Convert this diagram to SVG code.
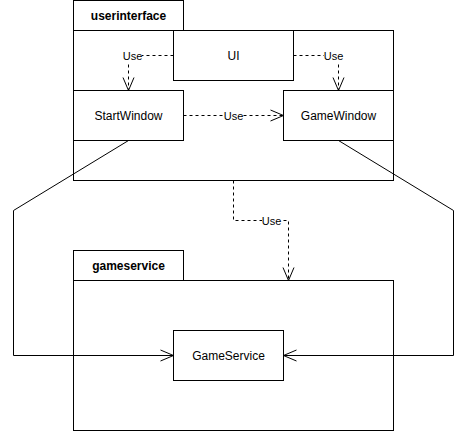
<svg xmlns="http://www.w3.org/2000/svg" width="468" height="431" viewBox="0 0 468 431">
<style>
.box{fill:#fff;stroke:#000;stroke-width:1}
.pkg{fill:none;stroke:#000;stroke-width:1}
.t{font-family:"Liberation Sans",Arial,sans-serif;font-size:12px;fill:#000;text-anchor:middle;dominant-baseline:central}
.b{font-weight:bold}
.lbl{font-family:"Liberation Sans",Arial,sans-serif;font-size:11px;fill:#000;text-anchor:middle;dominant-baseline:central}
.dash{fill:none;stroke:#000;stroke-width:1;stroke-dasharray:3 3}
.solid{fill:none;stroke:#000;stroke-width:1}
</style>
<defs>
<marker id="open" markerUnits="userSpaceOnUse" markerWidth="16" markerHeight="16" viewBox="-14 -8 16 16" refX="0" refY="0" orient="auto">
<path d="M-13,-5.5 L0,0 L-13,5.5" fill="none" stroke="#000" stroke-width="1"/>
</marker>
</defs>
<rect width="468" height="431" fill="#fff"/>
<g id="userinterface">
<rect class="box" x="73.5" y="0.5" width="110" height="30"/>
<text class="t b" x="128.5" y="15.5">userinterface</text>
<rect class="pkg" x="73.5" y="30.5" width="320" height="150"/>
</g>
<g id="gameservice">
<rect class="box" x="73.5" y="250.5" width="110" height="30"/>
<text class="t b" x="128.5" y="265.5">gameservice</text>
<rect class="pkg" x="73.5" y="280.5" width="320" height="150"/>
</g>
<g id="UI">
<rect class="box" x="173.5" y="30.5" width="120" height="50"/>
<text class="t" x="233.5" y="55.5">UI</text>
</g>
<g id="StartWindow">
<rect class="box" x="73.5" y="90.5" width="110" height="50"/>
<text class="t" x="128.5" y="115.5">StartWindow</text>
</g>
<g id="GameWindow">
<rect class="box" x="283.5" y="90.5" width="110" height="50"/>
<text class="t" x="338.5" y="115.5">GameWindow</text>
</g>
<g id="GameService">
<rect class="box" x="173.5" y="330.5" width="110" height="50"/>
<text class="t" x="228.5" y="355.5">GameService</text>
</g>
<g id="connectors">
<path class="dash" d="M173.5,55.5 H128.5 V90.5" marker-end="url(#open)"/>
<path class="dash" d="M293.5,55.5 H338.5 V90.5" marker-end="url(#open)"/>
<path class="dash" d="M183.5,115.5 H283.5" marker-end="url(#open)"/>
<path class="dash" d="M233.5,180.5 V220.5 H288.5 V280.5" marker-end="url(#open)"/>
<path class="solid" d="M128.5,140.5 L13.5,210.5 V355.5 H173.5" marker-end="url(#open)"/>
<path class="solid" d="M338.5,140.5 L453.5,210.5 V355.5 H283.5" marker-end="url(#open)"/>
<rect x="123" y="49" width="19" height="13" fill="#fff"/>
<text class="lbl" x="132.5" y="55.5">Use</text>
<rect x="324" y="49" width="19" height="13" fill="#fff"/>
<text class="lbl" x="333.5" y="55.5">Use</text>
<rect x="224" y="109" width="19" height="13" fill="#fff"/>
<text class="lbl" x="233.5" y="115.5">Use</text>
<rect x="262" y="214" width="19" height="13" fill="#fff"/>
<text class="lbl" x="271.5" y="220.5">Use</text>
</g>
</svg>
